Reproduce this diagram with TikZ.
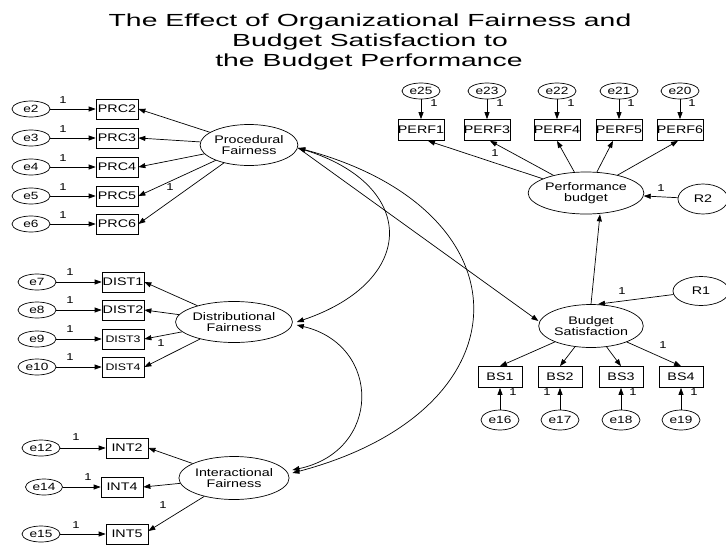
\documentclass[tikz,border=0pt]{standalone}
\usepackage{fontspec}
\setmainfont{Liberation Sans}
\newfontfamily\titlef[FakeStretch=1.62]{Liberation Sans}
\newfontfamily\nodef[FakeStretch=1.3]{Liberation Sans}
\usetikzlibrary{arrows.meta,shapes.geometric}
\tikzset{
  lat/.style={draw, ellipse, line width=0.7pt, minimum width=86pt, minimum height=41pt, inner sep=0pt, align=center, font=\nodef\fontsize{11}{10.5}\selectfont},
  err/.style={draw, ellipse, line width=0.7pt, minimum width=38pt, minimum height=16pt, inner sep=0pt, font=\nodef\fontsize{10.5}{11}\selectfont},
  obs/.style={draw, rectangle, line width=0.7pt, minimum width=42pt, minimum height=20pt, inner sep=0pt, font=\nodef\fontsize{11}{12}\selectfont},
  lab1/.style={inner sep=0pt, font=\nodef\fontsize{10}{10}\selectfont},
  ttl/.style={anchor=base, inner sep=0pt, font=\titlef\fontsize{17.5}{20}\selectfont},
  arr/.style={-{Triangle[length=7pt,width=5pt]}, line width=0.7pt},
  cov/.style={{Triangle[length=7pt,width=5pt]}-{Triangle[length=7pt,width=5pt]}, line width=0.7pt}
}
\begin{document}
\begin{tikzpicture}[x=1pt,y=-1pt]
\useasboundingbox[fill=white] (0,0) rectangle (726,544);

% title
\node[ttl] (t1) at (370,26) {The Effect of Organizational Fairness and};
\node[ttl] (t2) at (370,46) {Budget Satisfaction to};
\node[ttl] (t3) at (369,66) {the Budget Performance};

% latent variables
\node[lat, minimum width=88pt] (PF) at (249,145) {Procedural\\Fairness};
\node[lat] (DF) at (234,322) {Distributional\\Fairness};
\node[lat, minimum width=87pt, minimum height=43pt] (IF) at (234,478) {Interactional\\Fairness};
\node[lat, minimum height=42pt] (PB) at (586,193) {Performance\\budget};
\node[lat, minimum height=43pt] (BS) at (591,326) {Budget\\Satisfaction};
\node[lat, minimum width=50pt, minimum height=30pt] (R2) at (703,199) {R2};
\node[lat, minimum width=56pt, minimum height=29pt] (R1) at (701,291) {R1};

% procedural fairness indicators
\foreach \n/\y in {2/109,3/138,4/167,5/196,6/224}{
  \node[err] (e\n) at (31,\y) {e\n};
  \node[obs] (PRC\n) at (117,\y) {PRC\n};
  \draw[arr] (e\n) -- (PRC\n);
  \node[lab1] (lp\n) at (63,\y-8.5) {1};
  \draw[arr] (PF) -- (PRC\n.east);
}
\node[lab1] (lpx) at (170,187) {1};

% distributional fairness indicators
\foreach \n/\m/\y/\fs in {7/1/282/11,8/2/310/11,9/3/339/9.5,10/4/367/9.5}{
  \node[err] (e\n) at (37,\y) {e\n};
  \node[obs, font=\nodef\fontsize{\fs}{12}\selectfont] (DIST\m) at (123,\y) {DIST\m};
  \draw[arr] (e\n) -- (DIST\m);
  \node[lab1] (ld\n) at (70,\y-10) {1};
  \draw[arr] (DF) -- (DIST\m.east);
}
\node[lab1] (ldx) at (161,343) {1};

% interactional fairness indicators
\node[err] (e12) at (41,448) {e12};
\node[obs] (INT2) at (127,448) {INT2};
\node[err, minimum width=37pt] (e14) at (44,487) {e14};
\node[obs] (INT4) at (122,487) {INT4};
\node[err] (e15) at (41,534) {e15};
\node[obs] (INT5) at (127,534) {INT5};
\draw[arr] (e12) -- (INT2);
\draw[arr] (e14) -- (INT4);
\draw[arr] (e15) -- (INT5);
\draw[arr] (IF) -- (INT2.east);
\draw[arr] (IF) -- (INT4.east);
\draw[arr] (IF) -- ([yshift=3pt]INT5.east);
\node[lab1] (li12) at (76,437) {1};
\node[lab1] (li14) at (88,477) {1};
\node[lab1] (li15) at (76,525) {1};
\node[lab1] (lix) at (163,505) {1};

% performance indicators
\foreach \n/\e/\x/\dx in {1/25/421/13,3/23/487/13,4/22/557/14,5/21/619/12,6/20/680/12}{
  \node[err] (e\e) at (\x,91) {e\e};
  \node[obs, minimum width=43pt, minimum height=21pt] (PERF\n) at (\x,130) {PERF\n};
  \draw[arr] (e\e) -- (PERF\n);
  \node[lab1] (lf\n) at (\x+\dx,103) {1};
}
\draw[arr] (PB) -- ([xshift=7pt]PERF1.south);
\draw[arr] (PB) -- ([xshift=3pt]PERF3.south);
\draw[arr] (PB) -- (PERF4.south);
\draw[arr] (PB) -- ([xshift=-6pt]PERF5.south);
\draw[arr] (PB) -- ([xshift=-2pt]PERF6.south);
\node[lab1] (lfx) at (495,153) {1};

% residuals
\draw[arr] (R2) -- (PB);
\node[lab1] (lr2) at (661,188) {1};
\draw[arr] (R1) -- ([xshift=7pt]BS.north);
\node[lab1] (lr1) at (622,291) {1};

% budget satisfaction indicators
\foreach \n/\e/\x/\dx in {1/16/500/13,2/17/560/-13,3/18/621/12,4/19/681/13}{
  \node[obs, minimum width=44pt, minimum height=21pt] (BS\n) at (\x,377) {BS\n};
  \node[err, minimum height=20pt] (e\e) at (\x,420) {e\e};
  \draw[arr] (e\e) -- (BS\n);
  \node[lab1] (lb\n) at (\x+\dx,392) {1};
  \draw[arr] (BS) -- (BS\n.north);
}
\node[lab1] (lbx) at (663,345) {1};

% structural paths
\draw[arr] (BS.north) -- ([xshift=14pt]PB.south);
\draw[arr] ([yshift=-3pt]PF.east) -- ([yshift=5pt]BS.west);

% covariances
\draw[cov] ([yshift=-3pt]PF.east) .. controls (418,185) and (418,281) .. ([xshift=4pt]DF.east);
\draw[cov] ([yshift=-3pt]PF.east) .. controls (531,210) and (531,410) .. ([xshift=3pt,yshift=5pt]IF.east);
\draw[cov] ([xshift=4pt,yshift=-3pt]DF.east) .. controls (382,345) and (382,451) .. ([xshift=3pt,yshift=8pt]IF.east);
\end{tikzpicture}
\end{document}
